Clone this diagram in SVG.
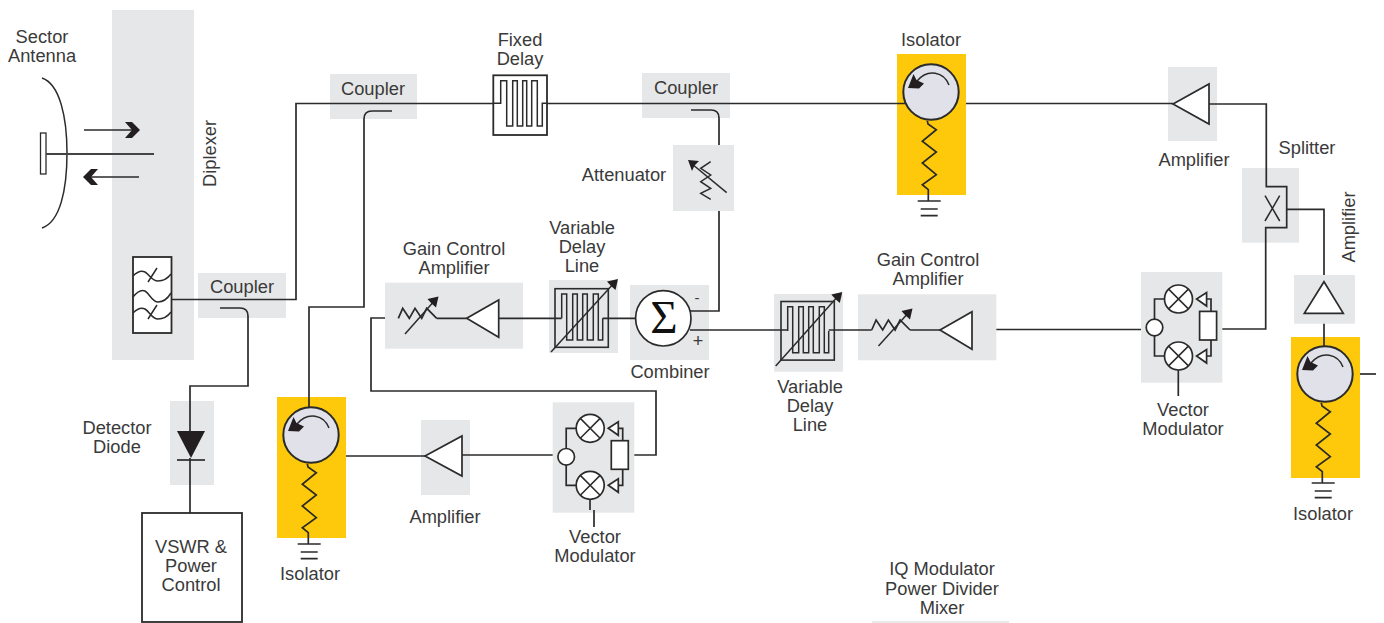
<svg xmlns="http://www.w3.org/2000/svg" xmlns:xlink="http://www.w3.org/1999/xlink" width="1384" height="623" viewBox="0 0 1384 623">
<style>
text{font-family:"Liberation Sans",Arial,sans-serif;font-size:18.300px;fill:#3a3a3a;text-anchor:middle}
.g{fill:#e6e7e8}
.y{fill:#ffc90b}
.w{fill:none;stroke:#2b2b2b;stroke-width:1.700}
.t{fill:none;stroke:#2b2b2b;stroke-width:1.500}
.s{fill:#fff;stroke:#2b2b2b;stroke-width:1.700}
.h{fill:#231f20;stroke:none}
</style>
<defs>
<g id="iso">
<circle cx="0" cy="0" r="27.700" fill="#e1e1ea" stroke="#2b2b2b" stroke-width="2"/>
<path class="t" d="M18,-7C13,-20 -3,-24 -14,-11"/>
<path class="h" d="M-23,-4L-17.500,-18L-14.500,-12L-7,-8.500L-12,-3.500Z"/>
<path class="w" d="M-3.700,28.700L-3,32L5.300,37.700L-8.700,49.300L5.300,60L-8.700,71L5.300,82.700L-8.700,92.700L-2.700,97.700V109M-13.300,109H9.700M-10.300,117H6.700M-10.300,123.700H6.700"/>
</g>
<g id="mx"><circle class="s" cx="37.500" cy="26" r="14"/><path class="t" d="M27.600,16.100L47.400,35.900M47.400,16.100L27.600,35.900"/></g>
<g id="vm">
<path class="w" d="M24,26H13.500V83H24M64,26H70V38.400M64,83H70V67"/>
<circle class="s" cx="13.500" cy="54.500" r="8.300"/>
<use href="#mx" xlink:href="#mx"/>
<use href="#mx" xlink:href="#mx" y="57"/>
<path class="s" d="M55.600,26L65.600,19.500V33Z"/>
<path class="s" d="M55.600,83L65.600,76.500V90Z"/>
<rect class="s" x="58.600" y="38.400" width="17" height="28.600"/>
</g>
<g id="vd">
<rect x="0" y="0" width="53.300" height="58.600" fill="none" stroke="#2b2b2b" stroke-width="1.600"/>
<path class="t" d="M6.700,29.600V5.300H11.700V51.300H17.700V5.300H22.300V51.300H27.700V5.300H32.300V51.300H38.300V5.300H43.300V51.300H47.700V29.600"/>
</g>
<path id="ah" class="h" d="M0,0L-11,2.500L-7,7L-2.500,11Z"/>
<path id="ad" class="w" d="M0,0L4.400,-10L11,0L16.700,-10L23.400,0L28.400,-10L38.400,0"/>
</defs>

<g id="diplexer"><rect class="g" x="112" y="10" width="82" height="350"/>
<rect x="133" y="257" width="38.500" height="76" fill="#fff" stroke="#2b2b2b" stroke-width="1.800"/>
<path class="t" d="M133,276C137,272 141,270 145,272C150,275 152,281 158,281C163,281 168,278 171,274M133,297C137,292 141,289 145,291C150,294 152,302 158,302C163,302 168,298 171,293M133,313C137,309 141,307 145,309C150,312 152,319 158,319C163,319 168,316 171,312M148,282L157,268M148,319L157,305"/>
<text transform="translate(216,153.500) rotate(-90)">Diplexer</text></g>

<g id="antenna"><path class="t" d="M42,78C60,84 67,118 67,153C67,190 60,222 42,228"/>
<rect x="40.500" y="133" width="5.500" height="41" fill="#fff" stroke="#2b2b2b" stroke-width="1.300"/>
<path fill="none" stroke="#444" stroke-width="2" d="M46,154H154"/>
<path class="t" d="M84,130H134M139,177H90"/>
<path class="h" d="M125,122H132L140,130L132,138H125L132,130ZM83,177L91,169H98L91,177L98,185H91Z"/>
<text x="42" y="43">Sector</text><text x="42" y="62">Antenna</text></g>

<g id="coupler1"><rect class="g" x="198" y="273" width="88" height="45"/><text x="242" y="293">Coupler</text></g>
<g id="coupler2"><rect class="g" x="330" y="74" width="87" height="45"/><text x="373" y="95">Coupler</text></g>
<g id="coupler3"><rect class="g" x="642" y="73" width="88" height="45"/><text x="686" y="94">Coupler</text></g>

<g id="fixed-delay"><rect x="493.300" y="75.300" width="53.700" height="59.700" fill="#fff" stroke="#2b2b2b" stroke-width="1.800"/>
<path class="t" d="M493,103.300H500.700V80.700H506.700V126H512.700V80.700H517.300V126H522.700V80.700H526.700V126H531.700V80.700H537.300V126H542.300V103.300H547"/>
<text x="520" y="46">Fixed</text><text x="520" y="65">Delay</text></g>

<g id="attenuator"><rect class="g" x="673" y="145" width="61" height="66"/>
<path class="t" d="M710.700,161.700L700.700,168.300L710.700,175L700.700,181.700L710.700,188.300L700.700,193.300L710.700,199.300M726.700,192.700L692,164"/>
<path class="h" d="M688,160L699,161L694.500,165.500L692,171Z"/>
<text x="624" y="181">Attenuator</text></g>

<g id="isolator1"><rect class="y" x="897" y="54" width="69" height="141"/><use href="#iso" xlink:href="#iso" x="931" y="92"/><text x="931" y="46">Isolator</text></g>
<g id="isolator2"><rect class="y" x="277" y="397" width="69" height="141"/><use href="#iso" xlink:href="#iso" x="311" y="435"/><text x="310" y="580">Isolator</text></g>
<g id="isolator3"><rect class="y" x="1291" y="337" width="69" height="141"/><use href="#iso" xlink:href="#iso" x="1325" y="374"/><text x="1323" y="520">Isolator</text></g>

<g id="amp-top"><rect class="g" x="1168" y="67" width="49" height="74"/><path class="s" d="M1173,104L1209,84V124Z"/><text x="1194" y="166">Amplifier</text></g>
<g id="splitter"><rect class="g" x="1242" y="168" width="57" height="74.700"/>
<path class="t" d="M1265,195.700L1279.700,221M1279.700,195.700L1265,221"/>
<text x="1307" y="154">Splitter</text></g>
<g id="amp-right"><rect class="g" x="1294" y="275" width="61" height="48.700"/><path class="s" d="M1324,281.700L1343.300,313.300H1304.300Z"/>
<text transform="translate(1355,227) rotate(-90)">Amplifier</text></g>
<g id="amp-bottom"><rect class="g" x="421" y="420" width="49" height="75"/>
<path class="s" d="M425,456L462,436V476Z"/><text x="445" y="523">Amplifier</text></g>

<g id="vm1"><rect class="g" x="552.700" y="402.300" width="81.600" height="110.400"/>
<use href="#vm" xlink:href="#vm" x="552.700" y="402.300"/>
<text x="595" y="543">Vector</text><text x="595" y="562">Modulator</text></g>
<g id="vm2"><rect class="g" x="1141" y="272" width="81.300" height="110.700"/>
<use href="#vm" xlink:href="#vm" x="1141" y="273"/>
<text x="1183" y="416">Vector</text><text x="1183" y="435">Modulator</text></g>

<g id="gca1"><rect class="g" x="385" y="282.700" width="138" height="66"/>
<use href="#ad" xlink:href="#ad" x="398.300" y="318.300"/>
<path class="t" d="M405,334L436,299"/><use href="#ah" xlink:href="#ah" transform="translate(438.500,296.500)"/>
<path class="s" d="M466.700,318.300L498.700,300V337.300Z"/>
<text x="454" y="255">Gain Control</text><text x="454" y="274">Amplifier</text></g>
<g id="gca2"><rect class="g" x="858" y="294.300" width="138.300" height="66"/>
<use href="#ad" xlink:href="#ad" x="871.700" y="330"/>
<path class="t" d="M878.500,346L910,311"/><use href="#ah" xlink:href="#ah" transform="translate(912.500,308.500)"/>
<path class="s" d="M940,330L972,311.700V349.300Z"/>
<text x="928" y="266">Gain Control</text><text x="928" y="285">Amplifier</text></g>

<g id="vdl1"><rect class="g" x="549" y="280" width="69" height="73"/>
<use href="#vd" xlink:href="#vd" x="555" y="288.700"/>
<path class="t" d="M551,352L615,282"/><use href="#ah" xlink:href="#ah" transform="translate(618,279)"/>
<text x="582" y="234">Variable</text><text x="582" y="253">Delay</text><text x="582" y="272">Line</text></g>
<g id="vdl2"><rect class="g" x="774" y="294" width="69" height="77.700"/>
<use href="#vd" xlink:href="#vd" x="781" y="301.500"/>
<path class="t" d="M775.700,366L839,295"/><use href="#ah" xlink:href="#ah" transform="translate(842.300,292)"/>
<text x="810" y="393">Variable</text><text x="810" y="412">Delay</text><text x="810" y="431">Line</text></g>

<g id="combiner"><rect class="g" x="630" y="285" width="79" height="75"/>
<circle class="s" cx="663.300" cy="318.300" r="27.700" stroke-width="2"/>
<text x="664" y="333" style="font-family:'Liberation Serif',serif;font-size:47px;fill:#111">Σ</text>
<text x="697" y="303" style="font-size:15px">-</text><text x="698" y="347" style="font-size:18px">+</text>
<text x="670" y="378">Combiner</text></g>

<g id="detector"><rect class="g" x="170" y="401" width="44" height="84"/>
<path class="h" d="M177,431H205L191,458Z"/><path class="w" d="M177,460H205"/>
<text x="117" y="434">Detector</text><text x="117" y="453">Diode</text></g>

<g id="vswr"><rect x="142" y="513" width="100" height="109" fill="#fff" stroke="#2b2b2b" stroke-width="1.800"/>
<text x="191" y="553">VSWR &amp;</text><text x="191" y="572">Power</text><text x="191" y="591">Control</text></g>

<g id="legend"><text x="942" y="575">IQ Modulator</text><text x="942" y="595">Power Divider</text><text x="942" y="614">Mixer</text>
<path d="M872,622H1009" stroke="#e3e3e3" stroke-width="1.500" fill="none"/></g>

<g id="connectors">
<path class="w" d="M171.500,299.500H296V103.500H493"/>
<path class="w" d="M220,308H240Q248,308 248,316V386H190V431M190,458V513"/>
<path class="w" d="M392,111H372Q364,111 364,119V307H309V407.500"/>
<path class="w" d="M547,103.500H905"/>
<path class="w" d="M691,110H711Q719,110 719,118V145M719,211V311H690"/>
<path class="w" d="M690,330H787.700M828.700,330H871.700M910.100,330H940"/>
<path class="w" d="M966,103.500H1173M1209,104H1266.300V186.700H1286.700V227.700H1265.700V329H1222.300"/>
<path class="w" d="M1286.700,209.300H1324V275M1324,323.700V346.500"/>
<path class="w" d="M1360,374H1376"/>
<path class="w" d="M996.300,329.500H1141"/>
<path class="w" d="M385,318H371V391H656V455H634.300"/>
<path class="w" d="M552.700,455H462M425,456H346"/>
<path class="w" d="M436.700,318.300H466.700M498.700,318.300H561.700M602.700,318.300H635.600"/>
<path class="w" d="M590,499V510M594,510V527M1178.300,370V396"/>
</g>
</svg>
